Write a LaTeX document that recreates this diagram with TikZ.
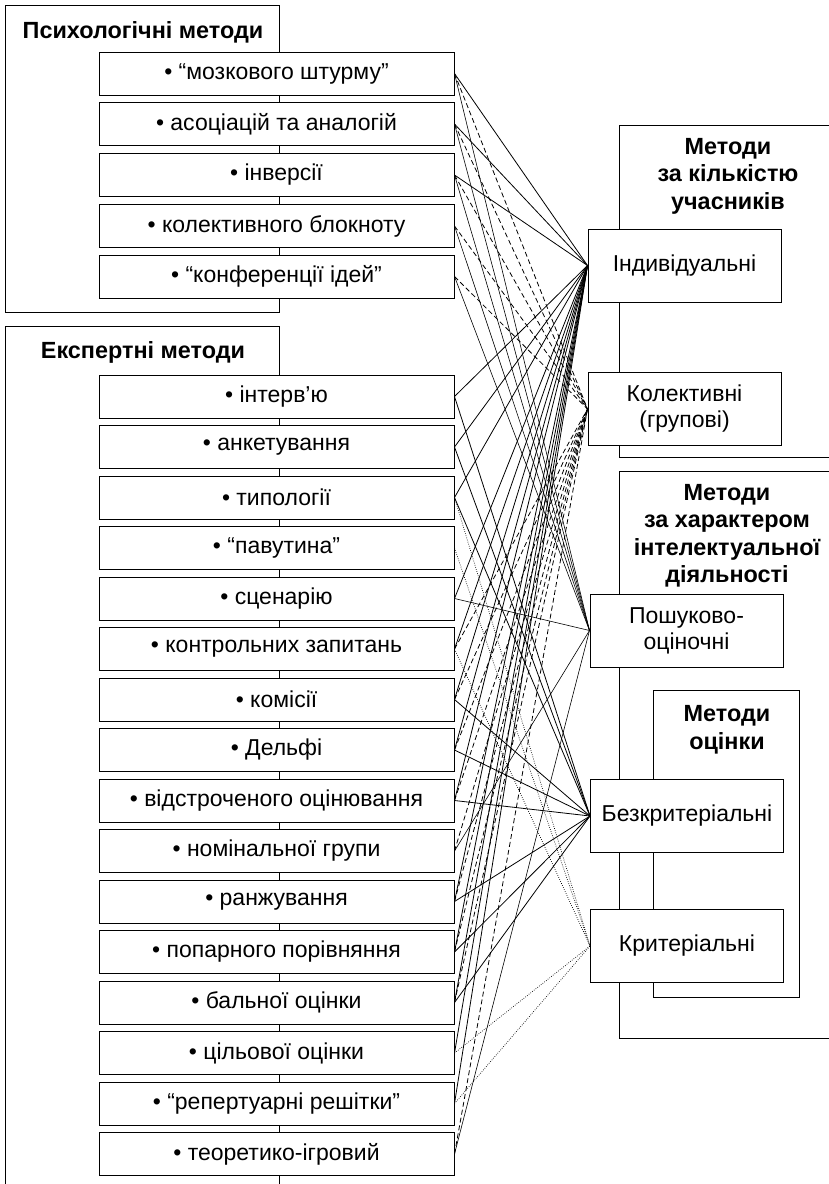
\documentclass[tikz,border=0pt]{standalone}
\usepackage{fontspec}
\setmainfont{Liberation Sans}

\newcommand\boxfont{\fontsize{23}{26}\selectfont}
\newcommand\headfont{\fontsize{23.4}{27.5}\selectfont\bfseries}

\begin{document}
\begin{tikzpicture}[x=1pt,y=-1pt,
    item/.style={draw, fill=white, line width=1pt, minimum width=355pt, minimum height=43pt, inner sep=0pt, font=\boxfont},
    kind/.style={draw, fill=white, line width=1pt, minimum width=193pt, minimum height=73pt, inner sep=0pt, align=center, font=\boxfont},
    head/.style={font=\headfont, align=center, inner sep=0pt},
    frame/.style={line width=1pt},
    toind/.style={line width=0.8pt},
    tokol/.style={line width=0.8pt, dash pattern=on 5pt off 3pt},
    toposh/.style={line width=0.6pt},
    tobez/.style={line width=0.8pt},
    tokryt/.style={line width=0.7pt, dash pattern=on 0.7pt off 1.5pt}]
    \clip (0,0) rectangle (829,1184);

    \draw[frame] (5,5) rectangle (279,312);
    \draw[frame] (279,1200) -- (279,326) -- (5,326) -- (5,1200);
    \draw[frame] (840,125) -- (619,125) -- (619,457) -- (840,457);
    \draw[frame] (840,471) -- (619,471) -- (619,1038) -- (840,1038);
    \draw[frame] (653,690) rectangle (799,997);

    \node[head] (psyhead) at (143,32) {Психологічні методи};
    \node[head] (exphead) at (143,352) {Експертні методи};
    \node[head] (numhead) at (728,176) {Методи\\за кількістю\\учасників};
    \node[head] (acthead) at (727,536) {Методи\\за характером\\інтелектуальної\\діяльності};
    \node[head] (evahead) at (727,730) {Методи\\оцінки};

    \node[item] (p1) at (276.5,73.5) {• “мозкового штурму”};
    \node[item] (p2) at (276.5,124) {• асоціацій та аналогій};
    \node[item] (p3) at (276.5,175) {• інверсії};
    \node[item] (p4) at (276.5,226) {• колективного блокноту};
    \node[item] (p5) at (276.5,276.5) {• “конференції ідей”};

    \node[item] (e1) at (276.5,396.5) {• інтерв’ю};
    \node[item] (e2) at (276.5,447) {• анкетування};
    \node[item] (e3) at (276.5,497.5) {• типології};
    \node[item] (e4) at (276.5,548) {• “павутина”};
    \node[item] (e5) at (276.5,598.5) {• сценарію};
    \node[item] (e6) at (276.5,649) {• контрольних запитань};
    \node[item] (e7) at (276.5,699.5) {• комісії};
    \node[item] (e8) at (276.5,750) {• Дельфі};
    \node[item] (e9) at (276.5,800.5) {• відстроченого оцінювання};
    \node[item] (e10) at (276.5,851) {• номінальної групи};
    \node[item] (e11) at (276.5,901.5) {• ранжування};
    \node[item] (e12) at (276.5,952) {• попарного порівняння};
    \node[item] (e13) at (276.5,1002.5) {• бальної оцінки};
    \node[item] (e14) at (276.5,1053) {• цільової оцінки};
    \node[item] (e15) at (276.5,1103.5) {• “репертуарні решітки”};
    \node[item] (e16) at (276.5,1154) {• теоретико-ігровий};

    \node[kind] (ind) at (684.5,265.5) {Індивідуальні};
    \node[kind] (kol) at (684.5,409) {Колективні\\(групові)};
    \node[kind] (posh) at (686.5,630.5) {Пошуково-\\оціночні};
    \node[kind] (bez) at (687,816) {Безкритеріальні};
    \node[kind] (kryt) at (687,946) {Критеріальні};

    % individual
    \draw[toind] (p1.east) -- (ind.west);
    \draw[toind] (p2.east) -- (ind.west);
    \draw[toind] (p3.east) -- (ind.west);
    \draw[toind] (e1.east) -- (ind.west);
    \draw[toind] (e2.east) -- (ind.west);
    \draw[toind] (e3.east) -- (ind.west);
    \draw[toind] (e5.east) -- (ind.west);
    \draw[toind] (e6.east) -- (ind.west);
    \draw[toind] (e7.east) -- (ind.west);
    \draw[toind] (e8.east) -- (ind.west);
    \draw[toind] (e9.east) -- (ind.west);
    \draw[toind] (e11.east) -- (ind.west);
    \draw[toind] (e12.east) -- (ind.west);
    \draw[toind] (e13.east) -- (ind.west);
    \draw[toind] (e14.east) -- (ind.west);
    \draw[toind] (e15.east) -- (ind.west);

    % collective
    \draw[tokol] (p1.east) -- (kol.west);
    \draw[tokol] (p2.east) -- (kol.west);
    \draw[tokol] (p3.east) -- (kol.west);
    \draw[tokol] (p4.east) -- (kol.west);
    \draw[tokol] (p5.east) -- (kol.west);
    \draw[tokol] (e6.east) -- (kol.west);
    \draw[tokol] (e7.east) -- (kol.west);
    \draw[tokol] (e8.east) -- (kol.west);
    \draw[tokol] (e9.east) -- (kol.west);
    \draw[tokol] (e10.east) -- (kol.west);
    \draw[tokol] (e11.east) -- (kol.west);
    \draw[tokol] (e12.east) -- (kol.west);
    \draw[tokol] (e13.east) -- (kol.west);
    \draw[tokol] (e16.east) -- (kol.west);

    % search and evaluation
    \draw[toposh] (p1.east) -- (posh.west);
    \draw[toposh] (p2.east) -- (posh.west);
    \draw[toposh] (p3.east) -- (posh.west);
    \draw[toposh] (p4.east) -- (posh.west);
    \draw[toposh] (p5.east) -- (posh.west);
    \draw[toposh] (e5.east) -- (posh.west);
    \draw[toposh] (e10.east) -- (posh.west);
    \draw[toposh] (e16.east) -- (posh.west);

    % without criteria
    \draw[tobez] (e1.east) -- (bez.west);
    \draw[tobez] (e2.east) -- (bez.west);
    \draw[tobez] (e3.east) -- (bez.west);
    \draw[tobez] (e7.east) -- (bez.west);
    \draw[tobez] (e8.east) -- (bez.west);
    \draw[tobez] (e9.east) -- (bez.west);
    \draw[tobez] (e11.east) -- (bez.west);
    \draw[tobez] (e12.east) -- (bez.west);
    \draw[tobez] (e13.east) -- (bez.west);

    % with criteria
    \draw[tokryt] (e3.east) -- (kryt.west);
    \draw[tokryt] (e4.east) -- (kryt.west);
    \draw[tokryt] (e6.east) -- (kryt.west);
    \draw[tokryt] (e14.east) -- (kryt.west);
    \draw[tokryt] (e15.east) -- (kryt.west);
\end{tikzpicture}
\end{document}
